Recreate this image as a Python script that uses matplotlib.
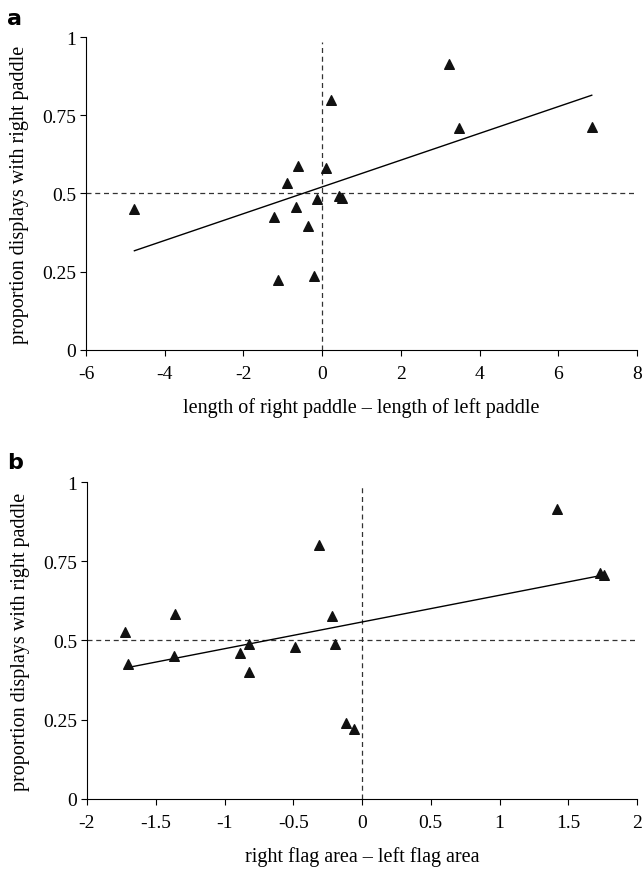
import matplotlib
matplotlib.use("Agg")
import matplotlib.pyplot as plt

# panel a: paddle length difference vs proportion of right-paddle displays
paddle_diff = [-4.77, -1.22, -1.12, -0.89, -0.66, -0.61, -0.36, -0.20,
               -0.13, 0.10, 0.23, 0.43, 0.50, 3.22, 3.48, 6.85]
paddle_prop = [0.452, 0.426, 0.222, 0.532, 0.458, 0.587, 0.397, 0.237,
               0.483, 0.580, 0.800, 0.492, 0.487, 0.915, 0.708, 0.713]
paddle_fit_x = [-4.77, 6.85]
paddle_fit_y = [0.317, 0.814]

# panel b: flag area difference vs proportion of right-paddle displays
flag_diff = [-1.72, -1.70, -1.36, -1.37, -0.89, -0.82, -0.82, -0.49,
             -0.31, -0.22, -0.20, -0.12, -0.06, 1.42, 1.73, 1.76]
flag_prop = [0.528, 0.427, 0.585, 0.452, 0.459, 0.490, 0.400, 0.481,
             0.800, 0.576, 0.490, 0.240, 0.222, 0.915, 0.712, 0.708]
flag_fit_x = [-1.70, 1.75]
flag_fit_y = [0.415, 0.706]

y_ticks = [0, 0.25, 0.5, 0.75, 1]
y_ticklabels = ["0", "0.25", "0.5", "0.75", "1"]

plt.rcParams["font.family"] = ["Liberation Serif", "DejaVu Serif"]

fig = plt.figure(figsize=(6.43, 8.70), dpi=100)
ax_a = fig.add_axes([0.1337, 0.5966, 0.857, 0.3597])
ax_b = fig.add_axes([0.1353, 0.0805, 0.8554, 0.3643])


def style(ax, xlim, xticks, xticklabels, xlabel):
    ax.set_xlim(*xlim)
    ax.set_ylim(0, 1)
    ax.set_xticks(xticks)
    ax.set_xticklabels(xticklabels, fontsize=14)
    ax.set_yticks(y_ticks)
    ax.set_yticklabels(y_ticklabels, fontsize=14)
    ax.set_xlabel(xlabel, fontsize=14.5, labelpad=11)
    ax.set_ylabel("proportion displays with right paddle", fontsize=14.5)
    ax.yaxis.set_label_coords(-0.104, 0.5)
    for s in ["top", "right"]:
        ax.spines[s].set_visible(False)
    ax.tick_params(direction="out", length=4, width=0.8)
    ax.tick_params(axis="x", pad=7)
    ax.tick_params(axis="y", pad=3)
    ax.axhline(0.5, color="#333333", ls=(0, (4, 3)), lw=0.9)
    ax.axvline(0, ymax=0.985, color="#333333", ls=(0, (4, 3)), lw=0.9)


# panel a
style(ax_a, (-6, 8), [-6, -4, -2, 0, 2, 4, 6, 8],
      ["-6", "-4", "-2", "0", "2", "4", "6", "8"],
      "length of right paddle \u2013 length of left paddle")
ax_a.plot(paddle_fit_x, paddle_fit_y, color="black", lw=1)
ax_a.scatter(paddle_diff, paddle_prop, marker="^", s=48, color="#111111",
             zorder=3, clip_on=False)

# panel b
style(ax_b, (-2, 2), [-2, -1.5, -1, -0.5, 0, 0.5, 1, 1.5, 2],
      ["-2", "-1.5", "-1", "-0.5", "0", "0.5", "1", "1.5", "2"],
      "right flag area \u2013 left flag area")
ax_b.plot(flag_fit_x, flag_fit_y, color="black", lw=1)
ax_b.scatter(flag_diff, flag_prop, marker="^", s=48, color="#111111",
             zorder=3, clip_on=False)

fig.text(0.011, 0.971, "a", fontsize=16, fontweight="bold", family="DejaVu Sans")
fig.text(0.011, 0.461, "b", fontsize=16, fontweight="bold", family="DejaVu Sans")

fig.savefig("out.png", dpi=100)
